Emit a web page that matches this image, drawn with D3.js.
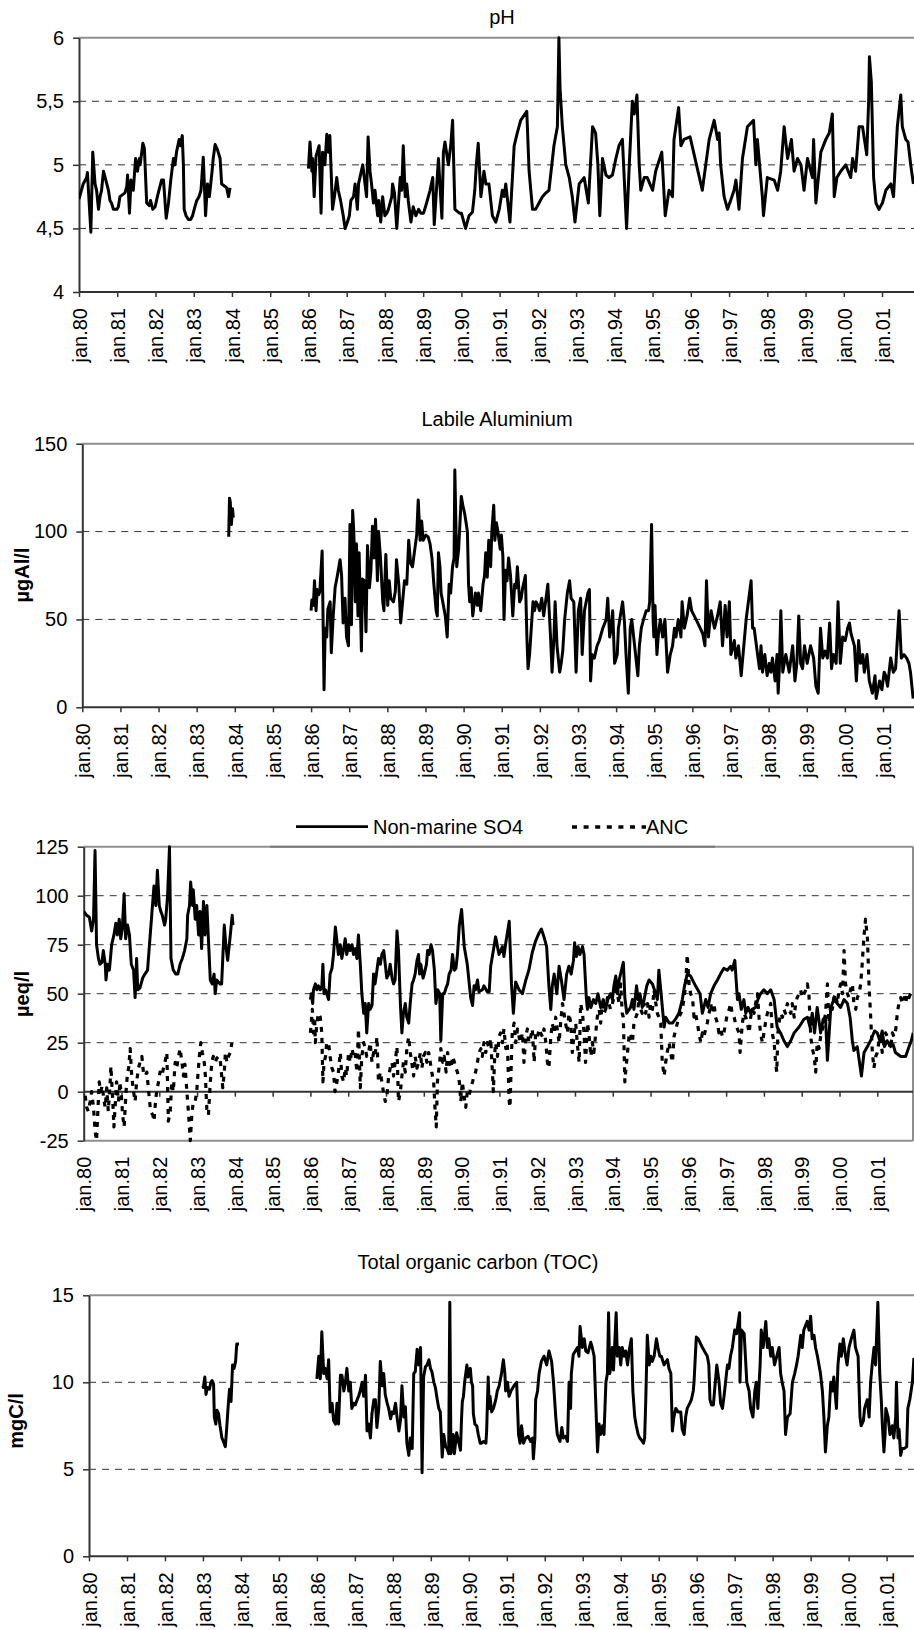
<!DOCTYPE html>
<html><head><meta charset="utf-8">
<script src="https://cdn.jsdelivr.net/npm/d3@7"></script>
<style>
body{margin:0;background:#fff}
svg{display:block}
text{font-family:"Liberation Sans",Arial,Helvetica,sans-serif;fill:#000}
</style>
</head><body>
<svg id="c" width="914" height="1630"></svg>
<script>
// ---------- tick data ----------
const yearTicks = [1980,1981,1982,1983,1984,1985,1986,1987,1988,1989,1990,1991,1992,1993,1994,1995,1996,1997,1998,1999,2000,2001];
const yearLabels = ["jan.80","jan.81","jan.82","jan.83","jan.84","jan.85","jan.86","jan.87","jan.88","jan.89","jan.90","jan.91","jan.92","jan.93","jan.94","jan.95","jan.96","jan.97","jan.98","jan.99","jan.00","jan.01"];
const phTicks = [4,4.5,5,5.5,6];
const phTickLabels = ["4","4,5","5","5,5","6"];
const alTicks = [0,50,100,150];
const eqTicks = [-25,0,25,50,75,100,125];
const tocTicks = [0,5,10,15];

// ---------- pH ----------
const ph1980 = [[1980.00,4.73],[1980.11,4.85],[1980.20,4.90],[1980.22,4.94],[1980.31,4.47],[1980.36,5.10],[1980.42,4.85],[1980.46,4.80],[1980.51,4.65],[1980.55,4.75],[1980.59,4.80],[1980.64,4.95],[1980.71,4.87],[1980.77,4.80],[1980.81,4.72],[1980.85,4.70],[1980.90,4.65],[1980.99,4.65],
[1981.03,4.67],[1981.07,4.75],[1981.16,4.77],[1981.20,4.78],[1981.25,4.83],[1981.27,4.92],[1981.32,4.62],[1981.36,4.88],[1981.42,4.80],[1981.48,5.05],[1981.53,4.95],[1981.58,5.05],[1981.60,5.00],[1981.67,5.17],[1981.71,5.13],[1981.77,4.70],[1981.84,4.68],[1981.87,4.72],[1981.93,4.65],[1981.99,4.67],
[1982.05,4.75],[1982.09,4.80],[1982.16,4.88],[1982.21,4.88],[1982.28,4.58],[1982.34,4.70],[1982.40,4.88],[1982.47,5.05],[1982.51,5.00],[1982.55,5.10],[1982.62,5.20],[1982.65,5.15],[1982.70,5.23],[1982.73,5.00],[1982.75,4.65],[1982.80,4.60],[1982.86,4.57],[1982.92,4.57],[1982.97,4.60],
[1983.03,4.67],[1983.08,4.72],[1983.14,4.75],[1983.19,4.80],[1983.25,5.06],[1983.31,4.60],[1983.36,4.85],[1983.41,4.75],[1983.48,4.95],[1983.51,5.05],[1983.56,5.16],[1983.62,5.12],[1983.69,5.05],[1983.73,4.85],[1983.82,4.83],[1983.86,4.82],[1983.91,4.75],[1983.95,4.82]];
const ph1986 = [[1986.00,4.97],[1986.04,5.18],[1986.09,4.95],[1986.11,5.05],[1986.15,4.75],[1986.20,5.07],[1986.23,5.10],[1986.28,5.15],[1986.33,4.62],[1986.37,5.10],[1986.43,5.00],[1986.48,5.24],[1986.52,5.10],[1986.56,5.23],[1986.63,4.65],[1986.68,4.75],[1986.74,4.90],[1986.78,4.80],[1986.84,4.72],[1986.91,4.60],[1986.96,4.50],
[1987.02,4.55],[1987.07,4.60],[1987.11,4.72],[1987.18,4.75],[1987.22,4.85],[1987.28,4.65],[1987.31,4.85],[1987.42,5.00],[1987.46,4.90],[1987.50,4.80],[1987.52,4.75],[1987.56,5.22],[1987.61,4.95],[1987.65,4.85],[1987.70,4.70],[1987.74,4.80],[1987.81,4.60],[1987.84,4.72],[1987.89,4.55],[1987.94,4.75],
[1988.00,4.60],[1988.05,4.62],[1988.09,4.65],[1988.18,4.75],[1988.20,4.85],[1988.25,4.78],[1988.31,4.50],[1988.40,4.90],[1988.44,4.80],[1988.48,5.15],[1988.53,4.75],[1988.57,4.85],[1988.61,4.72],[1988.68,4.55],[1988.74,4.67],[1988.81,4.60],[1988.88,4.65],[1988.94,4.62],
[1989.01,4.62],[1989.09,4.70],[1989.18,4.80],[1989.25,4.90],[1989.29,4.53],[1989.40,5.05],[1989.49,4.58],[1989.53,5.10],[1989.57,5.18],[1989.66,5.00],[1989.72,5.15],[1989.77,5.35],[1989.83,4.65],[1989.95,4.62],
[1990.00,4.62],[1990.11,4.50],[1990.20,4.60],[1990.29,4.63],[1990.35,4.80],[1990.39,5.00],[1990.44,5.17],[1990.51,4.75],[1990.59,4.95],[1990.64,4.85],[1990.72,4.85],[1990.81,4.60],[1990.90,4.55],[1990.99,4.65],
[1991.07,4.80],[1991.12,4.75],[1991.16,4.85],[1991.27,4.55],[1991.38,5.15],[1991.46,5.25],[1991.55,5.35],[1991.71,5.42],[1991.77,4.95],[1991.86,4.65],[1991.94,4.65],
[1992.03,4.70],[1992.12,4.75],[1992.21,4.78],[1992.29,4.80],[1992.42,5.15],[1992.51,5.30],[1992.55,6.00],[1992.58,5.60],[1992.64,5.30],[1992.73,5.00],[1992.82,4.90],[1992.90,4.75],[1992.97,4.55],
[1993.08,4.85],[1993.21,4.90],[1993.32,4.70],[1993.43,5.30],[1993.51,5.25],[1993.57,5.00],[1993.62,4.60],[1993.69,5.05],[1993.78,4.92],[1993.86,4.90],[1993.95,4.92],
[1994.04,5.05],[1994.12,5.15],[1994.21,5.20],[1994.32,4.50],[1994.39,5.00],[1994.47,5.50],[1994.52,5.40],[1994.59,5.55],[1994.65,5.00],[1994.69,4.80],[1994.78,4.90],[1994.86,4.90],
[1995.00,4.80],[1995.08,4.95],[1995.24,5.10],[1995.33,4.60],[1995.43,4.80],[1995.52,4.75],[1995.56,5.20],[1995.68,5.45],[1995.74,5.15],[1995.82,5.20],[1995.98,5.22],
[1996.30,4.80],[1996.39,5.00],[1996.48,5.20],[1996.61,5.35],[1996.70,5.20],[1996.74,5.25],[1996.78,5.00],[1996.87,4.75],[1996.96,4.65],
[1997.04,4.72],[1997.13,4.80],[1997.18,4.88],[1997.26,4.65],[1997.35,5.05],[1997.48,5.30],[1997.64,5.35],[1997.70,5.00],[1997.74,5.20],[1997.87,4.75],[1997.90,4.60],
[1998.00,4.90],[1998.18,4.88],[1998.27,4.80],[1998.35,4.95],[1998.44,5.30],[1998.53,5.05],[1998.63,5.20],[1998.70,4.95],[1998.79,5.05],[1998.88,5.00],[1998.96,4.80],
[1999.05,5.05],[1999.18,4.90],[1999.21,5.20],[1999.27,4.70],[1999.40,5.10],[1999.53,5.20],[1999.62,5.25],[1999.70,5.40],[1999.75,4.75],[1999.82,4.90],[1999.92,4.95],
[2000.05,5.00],[2000.18,4.90],[2000.23,5.05],[2000.31,4.95],[2000.40,5.30],[2000.49,5.30],[2000.60,5.08],[2000.65,5.50],[2000.67,5.85],[2000.72,5.65],[2000.78,4.90],[2000.84,4.70],[2000.92,4.65],
[2001.01,4.70],[2001.10,4.80],[2001.23,4.85],[2001.30,4.75],[2001.40,5.30],[2001.49,5.55],[2001.53,5.30],[2001.62,5.20],[2001.68,5.18],[2001.75,5.00],[2001.82,4.85]];

// ---------- Labile aluminium (ugAl/l) ----------
const al1983 = [[1983.84,97],[1983.86,119],[1983.88,117],[1983.91,104],[1983.94,113],[1983.96,108]];
const al1986 = [[1986.00,55],[1986.02,61],[1986.06,58],[1986.09,72],[1986.13,55],[1986.16,67],[1986.20,64],[1986.23,66],[1986.29,89],[1986.34,10],[1986.37,45],[1986.41,40],[1986.44,56],[1986.50,60],[1986.53,31],[1986.58,52],[1986.63,68],[1986.69,75],[1986.76,84],[1986.80,75],[1986.84,48],[1986.89,62],[1986.93,40],[1986.98,35],
[1987.02,104],[1987.06,47],[1987.09,112],[1987.12,100],[1987.16,60],[1987.19,93],[1987.23,52],[1987.26,88],[1987.32,32],[1987.35,73],[1987.40,72],[1987.44,43],[1987.48,92],[1987.53,68],[1987.57,78],[1987.61,103],[1987.65,85],[1987.69,107],[1987.74,72],[1987.77,100],[1987.82,85],[1987.88,60],[1987.91,55],[1987.96,87],
[1988.01,58],[1988.05,72],[1988.09,62],[1988.16,60],[1988.21,66],[1988.24,84],[1988.30,70],[1988.35,48],[1988.40,60],[1988.45,72],[1988.51,70],[1988.56,95],[1988.61,82],[1988.66,80],[1988.72,90],[1988.77,98],[1988.81,118],[1988.86,95],[1988.90,106],[1988.94,95],
[1989.01,98],[1989.07,97],[1989.12,93],[1989.17,85],[1989.22,70],[1989.28,55],[1989.31,52],[1989.34,88],[1989.38,80],[1989.41,65],[1989.47,58],[1989.52,52],[1989.57,40],[1989.62,70],[1989.66,65],[1989.71,80],[1989.75,85],[1989.77,135],[1989.82,80],[1989.87,90],
[1989.94,120],[1989.98,115],[1990.03,110],[1990.10,100],[1990.13,70],[1990.16,60],[1990.20,68],[1990.24,52],[1990.31,65],[1990.36,58],[1990.39,65],[1990.45,55],[1990.51,70],[1990.55,75],[1990.58,88],[1990.62,74],[1990.66,95],[1990.71,80],[1990.74,100],[1990.79,115],[1990.82,95],[1990.86,105],[1990.90,100],[1990.96,90],[1990.99,98],
[1991.03,86],[1991.06,50],[1991.10,78],[1991.14,72],[1991.18,85],[1991.23,75],[1991.29,52],[1991.34,70],[1991.38,68],[1991.41,80],[1991.47,60],[1991.51,62],[1991.55,68],[1991.62,75],[1991.66,40],[1991.69,22],[1991.73,30],[1991.82,60],[1991.86,55],[1991.90,60],[1991.95,58],[1991.99,55],
[1992.05,62],[1992.10,52],[1992.21,70],[1992.28,40],[1992.32,20],[1992.37,40],[1992.40,60],[1992.45,35],[1992.52,20],[1992.56,25],[1992.60,32],[1992.65,50],[1992.72,65],[1992.78,72],[1992.82,62],[1992.89,60],[1992.95,20],
[1993.01,55],[1993.07,62],[1993.11,30],[1993.17,55],[1993.26,65],[1993.30,67],[1993.33,15],[1993.37,30],[1993.43,28],[1993.50,35],[1993.56,38],[1993.65,45],[1993.74,50],[1993.78,62],[1993.83,40],[1993.87,45],[1993.91,55],[1993.96,25],
[1994.03,30],[1994.06,45],[1994.17,60],[1994.22,48],[1994.26,30],[1994.32,8],[1994.37,45],[1994.41,50],[1994.46,40],[1994.52,28],[1994.57,18],[1994.61,35],[1994.66,45],[1994.72,50],[1994.79,55],[1994.85,55],[1994.88,60],[1994.93,104],[1994.97,50],[1994.99,40],
[1995.02,58],[1995.07,30],[1995.11,42],[1995.16,50],[1995.22,40],[1995.28,50],[1995.35,20],[1995.42,30],[1995.48,35],[1995.53,45],[1995.57,40],[1995.63,50],[1995.70,40],[1995.73,60],[1995.79,45],[1995.86,52],[1995.93,62],[1995.98,55],
[1996.14,48],[1996.27,42],[1996.33,35],[1996.37,72],[1996.42,40],[1996.49,55],[1996.58,45],[1996.66,52],[1996.73,60],[1996.79,35],[1996.86,58],[1996.91,40],[1996.97,60],
[1997.01,30],[1997.10,38],[1997.14,28],[1997.21,35],[1997.28,18],[1997.41,50],[1997.54,72],[1997.58,45],[1997.62,45],[1997.71,30],[1997.76,22],[1997.80,35],[1997.84,20],[1997.90,30],[1997.96,18],
[1998.02,25],[1998.06,20],[1998.10,28],[1998.17,15],[1998.22,30],[1998.25,8],[1998.28,22],[1998.32,55],[1998.37,20],[1998.45,30],[1998.54,20],[1998.63,35],[1998.69,15],[1998.74,25],[1998.79,52],[1998.84,25],[1998.89,22],[1998.94,35],
[1999.01,25],[1999.10,35],[1999.18,28],[1999.24,12],[1999.30,8],[1999.36,45],[1999.42,28],[1999.48,32],[1999.54,28],[1999.60,48],[1999.65,22],[1999.70,30],[1999.77,25],[1999.82,60],[1999.88,25],[1999.94,40],
[2000.01,38],[2000.07,45],[2000.12,48],[2000.16,42],[2000.25,35],[2000.30,15],[2000.36,38],[2000.41,25],[2000.47,30],[2000.51,20],[2000.58,30],[2000.64,15],[2000.72,8],[2000.79,18],[2000.82,5],[2000.91,15],[2000.97,10],
[2001.03,20],[2001.07,18],[2001.12,12],[2001.20,28],[2001.27,20],[2001.33,22],[2001.42,55],[2001.48,28],[2001.55,30],[2001.62,28],[2001.68,25],[2001.72,20],[2001.79,5]];

// ---------- Non-marine SO4 (ueq/l) ----------
const so41980 = [[1980.00,92],[1980.08,90],[1980.15,89],[1980.21,82],[1980.26,88],[1980.30,123],[1980.34,75],[1980.39,68],[1980.43,65],[1980.48,66],[1980.52,72],[1980.57,65],[1980.59,57],[1980.63,65],[1980.68,62],[1980.74,75],[1980.80,80],[1980.85,86],[1980.89,80],[1980.94,88],[1980.98,78],
[1981.02,83],[1981.07,101],[1981.11,78],[1981.16,85],[1981.21,80],[1981.26,65],[1981.32,62],[1981.36,48],[1981.40,68],[1981.43,52],[1981.49,53],[1981.56,58],[1981.62,60],[1981.69,62],[1981.76,80],[1981.80,90],[1981.86,105],[1981.91,95],[1981.95,113],[1982.00,95],
[1982.04,92],[1982.08,90],[1982.14,85],[1982.17,88],[1982.22,100],[1982.27,125],[1982.31,68],[1982.37,62],[1982.44,60],[1982.49,60],[1982.55,65],[1982.61,68],[1982.67,72],[1982.73,78],[1982.75,90],[1982.80,95],[1982.83,107],[1982.88,95],[1982.90,103],[1982.95,88],[1982.99,95],
[1983.04,80],[1983.08,92],[1983.12,73],[1983.17,97],[1983.21,80],[1983.26,95],[1983.30,78],[1983.35,57],[1983.40,55],[1983.45,60],[1983.48,50],[1983.52,57],[1983.61,55],[1983.65,55],[1983.72,85],[1983.76,75],[1983.81,67],[1983.88,80],[1983.93,90],[1983.95,85]];
const so41986 = [[1986.00,47],[1986.02,50],[1986.06,45],[1986.08,52],[1986.13,55],[1986.17,52],[1986.21,54],[1986.26,52],[1986.30,53],[1986.33,65],[1986.36,50],[1986.40,52],[1986.43,50],[1986.48,47],[1986.52,60],[1986.57,63],[1986.61,70],[1986.66,84],[1986.70,77],[1986.74,70],[1986.79,75],[1986.83,68],[1986.88,73],[1986.92,78],[1986.96,70],
[1987.01,75],[1987.05,72],[1987.10,75],[1987.14,70],[1987.19,73],[1987.23,68],[1987.27,80],[1987.32,65],[1987.36,50],[1987.41,40],[1987.45,45],[1987.49,30],[1987.54,45],[1987.58,42],[1987.63,44],[1987.67,60],[1987.71,55],[1987.76,62],[1987.80,68],[1987.85,65],[1987.89,70],[1987.94,72],[1987.98,65],
[1988.02,58],[1988.07,60],[1988.11,65],[1988.16,58],[1988.20,55],[1988.24,57],[1988.29,82],[1988.33,72],[1988.38,45],[1988.42,30],[1988.46,40],[1988.51,45],[1988.55,38],[1988.60,35],[1988.64,45],[1988.69,55],[1988.73,57],[1988.77,60],[1988.82,67],[1988.86,70],[1988.89,60],[1988.92,65],[1988.98,58],
[1989.01,60],[1989.07,65],[1989.10,72],[1989.14,70],[1989.19,75],[1989.23,72],[1989.28,62],[1989.32,45],[1989.37,52],[1989.42,50],[1989.45,26],[1989.50,50],[1989.54,50],[1989.59,53],[1989.63,55],[1989.67,60],[1989.72,62],[1989.76,70],[1989.81,62],[1989.85,63],[1989.89,70],[1989.94,85],
[1990.00,93],[1990.07,74],[1990.15,65],[1990.24,48],[1990.29,44],[1990.33,54],[1990.37,52],[1990.42,57],[1990.46,51],[1990.55,52],[1990.59,54],[1990.68,51],[1990.73,51],[1990.77,64],[1990.84,72],[1990.90,79],[1990.95,74],[1990.99,70],
[1991.08,74],[1991.12,69],[1991.17,76],[1991.26,87],[1991.32,55],[1991.37,40],[1991.43,56],[1991.52,52],[1991.61,50],[1991.70,57],[1991.78,62],[1991.87,71],[1991.96,77],
[1992.05,81],[1992.11,83],[1992.18,79],[1992.25,74],[1992.31,54],[1992.36,42],[1992.40,54],[1992.45,60],[1992.52,50],[1992.58,64],[1992.64,57],[1992.71,47],[1992.78,60],[1992.84,64],[1992.90,60],[1992.96,67],[1992.99,76],
[1993.04,69],[1993.08,74],[1993.13,70],[1993.20,74],[1993.24,70],[1993.30,48],[1993.33,42],[1993.37,48],[1993.42,43],[1993.49,47],[1993.55,45],[1993.61,50],[1993.68,43],[1993.75,47],[1993.81,42],[1993.87,47],[1993.94,50],[1993.99,47],
[1994.03,54],[1994.08,59],[1994.12,50],[1994.17,57],[1994.28,66],[1994.32,48],[1994.37,40],[1994.47,43],[1994.52,47],[1994.56,42],[1994.63,54],[1994.67,47],[1994.72,50],[1994.78,43],[1994.83,47],[1994.90,54],[1994.96,57],
[1995.05,55],[1995.12,51],[1995.18,47],[1995.22,62],[1995.27,52],[1995.36,33],[1995.40,38],[1995.49,35],[1995.58,35],[1995.66,37],[1995.75,40],[1995.84,47],[1995.90,54],[1995.97,60],
[1996.06,59],[1996.19,54],[1996.31,50],[1996.37,40],[1996.46,47],[1996.52,43],[1996.59,50],[1996.68,54],[1996.77,57],[1996.85,60],[1996.94,63],
[1997.03,62],[1997.12,64],[1997.16,62],[1997.23,67],[1997.30,47],[1997.34,50],[1997.40,42],[1997.47,47],[1997.52,40],[1997.58,43],[1997.65,40],[1997.69,42],[1997.78,43],[1997.84,47],[1997.91,50],
[1998.00,52],[1998.09,50],[1998.18,52],[1998.27,47],[1998.35,33],[1998.44,30],[1998.53,26],[1998.62,23],[1998.71,26],[1998.80,30],[1998.93,33],
[1999.06,37],[1999.15,38],[1999.22,33],[1999.28,40],[1999.34,30],[1999.41,43],[1999.50,30],[1999.57,37],[1999.63,38],[1999.68,16],[1999.77,43],[1999.85,47],[1999.94,45],
[2000.03,43],[2000.12,47],[2000.21,45],[2000.28,38],[2000.34,26],[2000.38,21],[2000.47,23],[2000.58,8],[2000.65,20],[2000.74,23],[2000.82,26],[2000.93,31],
[2001.00,30],[2001.07,26],[2001.13,31],[2001.19,23],[2001.26,26],[2001.35,23],[2001.42,24],[2001.48,20],[2001.62,18],[2001.75,18],[2001.84,23],[2001.90,26],[2001.95,30]];

// ---------- ANC (ueq/l) ----------
const anc1980 = [[1980.04,-2],[1980.08,-8],[1980.12,-10],[1980.17,-5],[1980.21,0],[1980.26,-8],[1980.30,-20],[1980.34,-25],[1980.37,-12],[1980.41,5],[1980.45,0],[1980.49,3],[1980.54,-5],[1980.57,-8],[1980.61,2],[1980.65,-10],[1980.70,5],[1980.72,13],[1980.77,-5],[1980.80,-18],[1980.83,-8],[1980.87,5],[1980.92,-5],[1980.96,5],[1981.00,-3],
[1981.03,-12],[1981.07,-18],[1981.12,0],[1981.16,10],[1981.19,12],[1981.23,22],[1981.27,8],[1981.32,0],[1981.36,-5],[1981.40,5],[1981.45,12],[1981.49,15],[1981.54,18],[1981.58,10],[1981.63,8],[1981.67,10],[1981.73,-2],[1981.77,-10],[1981.83,-12],[1981.86,-15],[1981.90,-5],[1981.93,0],[1981.98,5],
[1982.02,10],[1982.07,8],[1982.11,12],[1982.15,15],[1982.20,20],[1982.24,-15],[1982.29,-10],[1982.33,5],[1982.37,0],[1982.42,15],[1982.46,12],[1982.51,18],[1982.55,22],[1982.60,15],[1982.64,8],[1982.68,14],[1982.73,0],[1982.77,-10],[1982.82,-25],[1982.86,-12],[1982.90,-5],[1982.95,-5],[1982.99,0],
[1983.02,8],[1983.06,18],[1983.10,25],[1983.14,20],[1983.19,15],[1983.22,8],[1983.26,-10],[1983.30,-12],[1983.35,5],[1983.39,15],[1983.43,18],[1983.48,15],[1983.52,17],[1983.57,18],[1983.61,17],[1983.68,2],[1983.72,10],[1983.75,20],[1983.79,15],[1983.83,18],[1983.88,20],[1983.92,25]];
const anc1986 = [[1986.00,30],[1986.02,35],[1986.05,42],[1986.08,30],[1986.11,38],[1986.13,25],[1986.17,35],[1986.21,40],[1986.26,38],[1986.30,30],[1986.33,5],[1986.36,15],[1986.40,18],[1986.43,25],[1986.48,25],[1986.52,18],[1986.57,12],[1986.61,10],[1986.65,0],[1986.70,5],[1986.74,10],[1986.79,20],[1986.83,8],[1986.88,5],[1986.92,12],[1986.96,8],
[1987.01,20],[1987.05,15],[1987.10,22],[1987.14,18],[1987.18,20],[1987.23,10],[1987.27,32],[1987.32,2],[1987.36,18],[1987.41,25],[1987.45,22],[1987.49,18],[1987.54,20],[1987.58,25],[1987.63,15],[1987.67,20],[1987.71,18],[1987.76,28],[1987.80,5],[1987.85,10],[1987.89,5],[1987.93,0],[1987.98,-5],
[1988.02,-3],[1988.07,8],[1988.11,12],[1988.16,15],[1988.20,8],[1988.24,15],[1988.29,23],[1988.33,-5],[1988.38,0],[1988.42,8],[1988.46,15],[1988.51,10],[1988.55,22],[1988.60,28],[1988.64,20],[1988.68,15],[1988.73,8],[1988.77,18],[1988.82,12],[1988.86,15],[1988.91,20],[1988.95,12],[1988.99,18],
[1989.04,20],[1989.08,15],[1989.13,20],[1989.17,15],[1989.21,10],[1989.26,5],[1989.30,-10],[1989.33,-18],[1989.36,5],[1989.42,15],[1989.45,22],[1989.50,15],[1989.54,18],[1989.59,10],[1989.63,20],[1989.67,15],[1989.72,12],[1989.76,18],[1989.81,15],[1989.85,12],[1989.89,10],[1989.94,5],
[1989.98,-5],[1990.02,5],[1990.07,-3],[1990.11,-8],[1990.15,0],[1990.20,-2],[1990.24,2],[1990.29,5],[1990.33,8],[1990.37,10],[1990.42,15],[1990.46,20],[1990.51,22],[1990.55,18],[1990.59,25],[1990.64,20],[1990.68,25],[1990.73,22],[1990.77,27],[1990.81,12],[1990.84,0],[1990.88,20],[1990.90,25],[1990.95,18],[1990.99,28],
[1991.03,30],[1991.08,25],[1991.12,32],[1991.17,22],[1991.21,25],[1991.26,-5],[1991.28,-8],[1991.32,18],[1991.34,30],[1991.39,35],[1991.43,25],[1991.48,32],[1991.52,28],[1991.56,25],[1991.61,30],[1991.65,15],[1991.70,28],[1991.74,32],[1991.78,25],[1991.83,28],[1991.87,32],[1991.92,15],[1991.96,30],
[1992.01,28],[1992.05,32],[1992.09,30],[1992.14,28],[1992.18,32],[1992.23,25],[1992.27,15],[1992.31,12],[1992.36,28],[1992.40,35],[1992.45,30],[1992.49,38],[1992.53,32],[1992.58,25],[1992.62,35],[1992.67,45],[1992.71,40],[1992.75,35],[1992.80,30],[1992.84,40],[1992.89,35],[1992.93,20],[1992.98,30],
[1993.02,35],[1993.06,25],[1993.11,15],[1993.15,45],[1993.20,40],[1993.24,30],[1993.28,15],[1993.33,35],[1993.37,30],[1993.42,18],[1993.46,25],[1993.50,20],[1993.55,30],[1993.59,38],[1993.64,42],[1993.68,35],[1993.72,45],[1993.77,40],[1993.81,42],[1993.86,48],[1993.90,45],[1993.94,42],[1993.99,45],
[1994.03,48],[1994.08,52],[1994.12,50],[1994.17,45],[1994.21,55],[1994.25,40],[1994.28,38],[1994.32,5],[1994.34,10],[1994.39,20],[1994.43,28],[1994.47,30],[1994.52,25],[1994.56,35],[1994.61,38],[1994.65,40],[1994.70,48],[1994.74,42],[1994.78,40],[1994.83,45],[1994.87,40],[1994.92,45],[1994.96,38],
[1995.00,45],[1995.05,42],[1995.09,52],[1995.14,45],[1995.18,40],[1995.22,38],[1995.27,35],[1995.31,15],[1995.36,8],[1995.40,15],[1995.44,20],[1995.49,25],[1995.53,20],[1995.58,15],[1995.62,28],[1995.67,32],[1995.71,35],[1995.75,38],[1995.80,40],[1995.84,42],[1995.89,48],[1995.93,55],[1995.97,70],
[1996.02,55],[1996.06,50],[1996.11,48],[1996.15,38],[1996.19,40],[1996.24,35],[1996.28,30],[1996.33,25],[1996.37,30],[1996.41,28],[1996.46,32],[1996.50,35],[1996.55,40],[1996.59,45],[1996.64,40],[1996.68,45],[1996.72,38],[1996.77,35],[1996.81,30],[1996.86,32],[1996.90,28],[1996.94,30],[1996.99,35],
[1997.03,40],[1997.08,42],[1997.12,45],[1997.16,40],[1997.21,38],[1997.25,35],[1997.30,32],[1997.34,30],[1997.37,20],[1997.40,28],[1997.43,35],[1997.47,40],[1997.52,38],[1997.56,35],[1997.61,30],[1997.65,38],[1997.69,42],[1997.74,40],[1997.78,45],[1997.83,50],[1997.87,38],[1997.91,30],[1997.96,25],
[1998.00,30],[1998.04,35],[1998.09,40],[1998.13,42],[1998.18,45],[1998.22,30],[1998.27,25],[1998.31,15],[1998.34,10],[1998.37,30],[1998.40,35],[1998.44,40],[1998.49,38],[1998.53,42],[1998.57,40],[1998.62,45],[1998.66,42],[1998.71,40],[1998.75,45],[1998.80,38],[1998.84,45],[1998.88,48],[1998.93,50],[1998.97,52],
[1999.02,48],[1999.06,50],[1999.11,52],[1999.15,55],[1999.19,50],[1999.24,28],[1999.28,22],[1999.33,18],[1999.37,10],[1999.41,25],[1999.46,22],[1999.50,28],[1999.55,32],[1999.59,35],[1999.63,40],[1999.68,55],[1999.72,35],[1999.77,45],[1999.81,42],[1999.85,48],[1999.90,50],[1999.94,45],[1999.99,52],
[2000.03,55],[2000.08,50],[2000.12,72],[2000.16,55],[2000.21,50],[2000.25,48],[2000.29,52],[2000.34,55],[2000.38,45],[2000.43,42],[2000.47,48],[2000.52,50],[2000.56,55],[2000.60,65],[2000.65,80],[2000.69,88],[2000.74,78],[2000.78,55],[2000.82,40],[2000.87,20],[2000.91,12],[2000.96,18],
[2001.00,20],[2001.04,25],[2001.09,28],[2001.13,20],[2001.18,25],[2001.22,30],[2001.27,28],[2001.31,25],[2001.35,22],[2001.40,30],[2001.44,28],[2001.49,32],[2001.53,40],[2001.57,45],[2001.62,48],[2001.66,45],[2001.71,48],[2001.75,45],[2001.79,50],[2001.84,48],[2001.88,50],[2001.93,52]];

// ---------- TOC (mgC/l) ----------
const toc1983 = [[1983.00,9.8],[1983.01,9.7],[1983.05,10.3],[1983.08,9.3],[1983.12,9.7],[1983.17,9.6],[1983.21,10.0],[1983.24,10.1],[1983.28,9.9],[1983.30,8.0],[1983.34,7.6],[1983.37,8.4],[1983.41,8.2],[1983.45,7.5],[1983.50,6.8],[1983.54,6.6],[1983.59,6.3],[1983.63,7.5],[1983.67,8.8],[1983.70,9.6],[1983.74,8.9],[1983.78,11.0],[1983.82,10.8],[1983.86,11.2],[1983.89,12.2],[1983.95,12.2]];
const toc1986 = [[1986.00,10.2],[1986.05,11.5],[1986.09,10.2],[1986.13,12.9],[1986.18,10.5],[1986.22,10.8],[1986.27,10.2],[1986.31,11.3],[1986.35,8.3],[1986.40,8.8],[1986.44,7.8],[1986.49,7.6],[1986.53,8.8],[1986.57,7.6],[1986.62,10.4],[1986.66,10.4],[1986.71,9.5],[1986.75,10.0],[1986.79,10.8],[1986.84,9.5],[1986.88,10.0],[1986.92,8.5],[1986.97,8.8],
[1987.01,8.7],[1987.06,9.0],[1987.10,9.2],[1987.14,9.5],[1987.19,10.0],[1987.23,9.2],[1987.28,10.4],[1987.32,7.2],[1987.36,7.6],[1987.41,6.8],[1987.45,8.2],[1987.50,9.0],[1987.54,9.0],[1987.58,7.4],[1987.63,8.5],[1987.67,11.2],[1987.72,9.8],[1987.76,10.5],[1987.80,9.3],[1987.85,8.8],[1987.89,8.5],[1987.94,7.9],[1987.98,8.3],
[1988.02,8.2],[1988.07,8.8],[1988.11,8.0],[1988.16,7.2],[1988.20,7.8],[1988.24,9.8],[1988.29,8.0],[1988.33,8.6],[1988.37,6.5],[1988.42,5.8],[1988.46,6.8],[1988.51,6.2],[1988.55,10.5],[1988.59,10.6],[1988.64,11.9],[1988.68,11.0],[1988.73,12.0],[1988.77,4.8],[1988.81,10.3],[1988.86,10.9],[1988.90,11.0],[1988.95,11.3],[1988.99,10.8],
[1989.03,10.6],[1989.08,10.0],[1989.12,9.7],[1989.17,9.0],[1989.21,8.5],[1989.25,8.3],[1989.30,5.7],[1989.34,7.0],[1989.39,6.3],[1989.43,6.2],[1989.47,5.9],[1989.50,14.6],[1989.53,5.9],[1989.59,7.0],[1989.62,5.9],[1989.68,7.1],[1989.74,6.5],[1989.78,6.1],
[1989.81,8.0],[1989.83,8.9],[1989.86,9.2],[1989.89,10.0],[1989.95,11.0],[1989.98,10.3],[1990.04,10.8],[1990.07,10.0],[1990.10,9.8],[1990.12,8.2],[1990.16,7.6],[1990.21,7.5],[1990.25,7.0],[1990.30,6.5],[1990.33,6.5],[1990.39,6.6],[1990.45,6.5],[1990.47,7.2],[1990.51,10.3],[1990.54,8.5],[1990.56,9.2],[1990.60,8.3],[1990.65,8.5],[1990.71,9.0],[1990.75,9.5],[1990.80,9.8],[1990.86,10.5],[1990.91,11.3],[1990.95,10.5],[1990.97,9.5],
[1991.02,10.0],[1991.06,9.2],[1991.11,9.5],[1991.19,9.8],[1991.26,10.0],[1991.31,7.0],[1991.35,6.5],[1991.39,7.5],[1991.44,6.5],[1991.50,6.8],[1991.56,6.9],[1991.63,6.6],[1991.68,6.8],[1991.70,5.6],[1991.74,6.8],[1991.76,9.0],[1991.81,9.5],[1991.85,10.5],[1991.91,11.2],[1991.98,11.5],
[1992.05,11.0],[1992.11,11.8],[1992.18,11.2],[1992.23,10.0],[1992.29,8.0],[1992.33,7.0],[1992.40,6.6],[1992.45,7.4],[1992.49,6.8],[1992.55,6.9],[1992.60,6.6],[1992.64,10.0],[1992.68,8.5],[1992.70,10.5],[1992.75,11.6],[1992.86,12.0],[1992.90,11.5],[1992.93,13.2],[1992.99,12.0],
[1993.04,12.5],[1993.08,11.8],[1993.14,11.7],[1993.21,12.3],[1993.25,12.0],[1993.30,11.5],[1993.34,9.0],[1993.39,6.0],[1993.43,7.6],[1993.47,7.0],[1993.52,7.5],[1993.56,7.0],[1993.61,10.0],[1993.65,10.5],[1993.68,14.0],[1993.71,10.5],[1993.75,11.0],[1993.78,12.0],[1993.81,10.7],[1993.88,14.0],[1993.91,11.5],[1993.96,12.0],
[1994.00,11.0],[1994.04,12.0],[1994.09,11.5],[1994.13,11.8],[1994.18,11.0],[1994.22,11.8],[1994.28,12.5],[1994.32,9.5],[1994.37,8.0],[1994.41,7.5],[1994.46,7.0],[1994.50,6.8],[1994.54,6.7],[1994.60,6.5],[1994.63,6.8],[1994.66,9.0],[1994.70,12.7],[1994.75,11.0],[1994.79,11.5],[1994.83,11.2],[1994.88,11.5],[1994.94,12.5],[1994.98,12.0],
[1995.03,11.5],[1995.07,11.5],[1995.14,11.0],[1995.23,11.3],[1995.27,10.8],[1995.32,10.5],[1995.36,7.2],[1995.40,8.0],[1995.45,8.5],[1995.51,8.3],[1995.58,8.3],[1995.62,7.3],[1995.67,7.0],[1995.71,8.0],[1995.75,8.5],[1995.82,8.8],[1995.86,9.0],[1995.91,9.5],[1995.93,10.0],[1995.99,12.6],
[1996.04,12.5],[1996.15,12.0],[1996.28,11.5],[1996.32,11.0],[1996.35,9.0],[1996.39,8.7],[1996.44,8.7],[1996.47,9.5],[1996.53,11.0],[1996.59,10.0],[1996.63,8.8],[1996.68,8.5],[1996.72,9.2],[1996.76,10.0],[1996.81,11.0],[1996.85,10.8],[1996.89,11.5],[1996.94,12.0],
[1997.00,13.0],[1997.05,12.8],[1997.13,14.0],[1997.14,10.0],[1997.18,13.0],[1997.25,12.8],[1997.32,10.0],[1997.38,9.5],[1997.42,8.5],[1997.48,8.0],[1997.53,9.5],[1997.57,10.0],[1997.61,8.5],[1997.67,11.0],[1997.70,13.0],[1997.75,12.0],[1997.82,13.5],[1997.86,12.0],[1997.90,12.5],[1997.95,11.5],[1997.99,12.0],
[1998.05,11.0],[1998.11,11.5],[1998.17,12.0],[1998.21,10.5],[1998.25,10.0],[1998.30,9.5],[1998.34,7.0],[1998.39,8.0],[1998.46,8.2],[1998.52,10.0],[1998.58,10.5],[1998.63,11.0],[1998.67,11.5],[1998.74,12.7],[1998.78,12.0],[1998.82,13.0],[1998.91,13.5],[1998.96,13.0],
[1999.00,13.8],[1999.04,12.5],[1999.09,12.7],[1999.13,12.0],[1999.18,11.5],[1999.22,11.0],[1999.26,10.5],[1999.31,9.5],[1999.35,8.0],[1999.39,6.0],[1999.44,7.5],[1999.48,8.0],[1999.53,10.0],[1999.57,9.5],[1999.61,10.3],[1999.68,8.5],[1999.72,11.0],[1999.77,12.2],[1999.81,11.5],[1999.86,12.5],[1999.92,11.5],[1999.96,11.0],
[2000.01,12.0],[2000.07,12.5],[2000.14,13.0],[2000.18,12.0],[2000.25,11.5],[2000.30,8.0],[2000.33,7.5],[2000.39,7.8],[2000.42,8.5],[2000.49,9.0],[2000.54,8.0],[2000.58,10.0],[2000.62,11.0],[2000.67,12.0],[2000.71,11.0],[2000.77,14.6],[2000.82,10.5],[2000.86,9.0],[2000.89,7.5],[2000.93,6.0],[2000.96,7.0],[2000.98,8.5],
[2001.04,8.0],[2001.09,7.0],[2001.15,7.5],[2001.19,6.8],[2001.24,8.0],[2001.26,10.0],[2001.30,6.8],[2001.33,7.3],[2001.37,5.8],[2001.41,6.2],[2001.47,6.2],[2001.53,6.3],[2001.56,8.5],[2001.61,9.0],[2001.68,10.0],[2001.72,11.4]];

// ---------- drawing ----------
const svg = d3.select("#c");
const FONT = 20;
let clipId = 0;

function panel(cfg) {
  const x = d3.scaleLinear().domain([1980, 2003]).range([cfg.left, cfg.left + 23 * cfg.perYear]);
  const y = d3.scaleLinear().domain(cfg.yDomain).range([cfg.bottom, cfg.top]);
  const right = cfg.right;
  const g = svg.append("g");

  if (cfg.title) {
    g.append("text").attr("x", cfg.titleX).attr("y", cfg.titleY)
      .attr("text-anchor", "middle").style("font-size", FONT + "px").text(cfg.title);
  }
  cfg.grid.forEach(v => {
    g.append("line").attr("x1", cfg.left).attr("x2", right)
      .attr("y1", y(v)).attr("y2", y(v))
      .attr("stroke", "#333").attr("stroke-width", 1).attr("stroke-dasharray", "7,6");
  });
  g.append("line").attr("x1", cfg.left).attr("x2", right)
    .attr("y1", y(cfg.yDomain[1])).attr("y2", y(cfg.yDomain[1]))
    .attr("stroke", "#8e8e8e").attr("stroke-width", 2);
  if (cfg.frame) {
    g.append("line").attr("x1", cfg.left).attr("x2", right)
      .attr("y1", y(cfg.yDomain[0])).attr("y2", y(cfg.yDomain[0]))
      .attr("stroke", "#8e8e8e").attr("stroke-width", 2);
    g.append("line").attr("x1", right).attr("x2", right)
      .attr("y1", y(cfg.yDomain[0])).attr("y2", y(cfg.yDomain[1]))
      .attr("stroke", "#8e8e8e").attr("stroke-width", 2);
  }

  const ya = g.append("g").attr("transform", `translate(${cfg.left},0)`)
    .call(d3.axisLeft(y).tickValues(cfg.yTicks).tickSize(6).tickSizeOuter(0).tickPadding(9)
      .tickFormat((d, i) => cfg.yLabels ? cfg.yLabels[i] : String(d)));
  ya.select(".domain").attr("stroke", "#333").attr("stroke-width", 2);
  ya.selectAll(".tick line").attr("stroke", "#333").attr("stroke-width", 1.5);
  ya.selectAll("text").style("font-size", FONT + "px").attr("fill", "#000")
    .style("font-family", '"Liberation Sans",Arial,sans-serif');

  const xa = g.append("g").attr("transform", `translate(0,${y(cfg.xAxisAt)})`)
    .call(d3.axisBottom(x).tickValues(yearTicks).tickSize(5).tickSizeOuter(0)
      .tickFormat(cfg.labelsLow ? () => "" : (d, i) => yearLabels[i]));
  xa.select(".domain").attr("stroke", "#333").attr("stroke-width", 2).attr("d", `M${cfg.left},0H${right}`);
  xa.selectAll(".tick line").attr("stroke", "#333").attr("stroke-width", 1.5);

  let labG = xa;
  if (cfg.labelsLow) {
    labG = g.append("g").attr("transform", `translate(0,${y(cfg.yDomain[0])})`)
      .call(d3.axisBottom(x).tickValues(yearTicks).tickSize(0).tickSizeOuter(0)
        .tickFormat((d, i) => yearLabels[i]));
    labG.select(".domain").remove();
  }
  labG.selectAll("text")
    .style("font-size", FONT + "px").attr("fill", "#000")
    .style("font-family", '"Liberation Sans",Arial,sans-serif')
    .attr("transform", "rotate(-90)")
    .attr("text-anchor", "end")
    .attr("x", -16).attr("y", 0).attr("dy", "0.36em");

  if (cfg.yTitle) {
    g.append("text")
      .attr("transform", `translate(${cfg.yTitleX},${cfg.yTitleY}) rotate(-90)`)
      .attr("text-anchor", "middle").style("font-size", FONT + "px")
      .style("font-weight", "bold").text(cfg.yTitle);
  }

  const id = "clip" + (clipId++);
  svg.append("clipPath").attr("id", id).append("rect")
    .attr("x", cfg.left).attr("y", cfg.top - 2)
    .attr("width", right - cfg.left).attr("height", cfg.bottom - cfg.top + 4);
  const dg = g.append("g").attr("clip-path", `url(#${id})`);
  const line = d3.line().x(d => x(d[0])).y(d => y(d[1]));
  cfg.series.forEach(s => {
    s.segments.forEach(seg => {
      dg.append("path").attr("d", line(seg)).attr("fill", "none")
        .attr("stroke", "#000").attr("stroke-width", s.width)
        .attr("stroke-linejoin", "round")
        .attr("stroke-dasharray", s.dash || null);
    });
  });
}

panel({left: 79, perYear: 38.24, right: 920, top: 37.7, bottom: 292, yDomain: [4, 6],
  yTicks: phTicks, yLabels: phTickLabels, grid: [4.5, 5, 5.5], xAxisAt: 4,
  title: "pH", titleX: 502, titleY: 24,
  series: [{segments: [ph1980, ph1986], width: 3}]});

panel({left: 82.3, perYear: 38.13, right: 920, top: 443.7, bottom: 707.3, yDomain: [0, 150],
  yTicks: alTicks, grid: [50, 100], xAxisAt: 0,
  title: "Labile Aluminium", titleX: 497, titleY: 426,
  yTitle: "µgAl/l", yTitleX: 29, yTitleY: 575,
  series: [{segments: [al1983, al1986], width: 3}]});

panel({left: 83.7, perYear: 37.79, right: 913, top: 846.7, bottom: 1140.7, yDomain: [-25, 125],
  yTicks: eqTicks, grid: [25, 50, 75, 100], xAxisAt: 0, labelsLow: true, frame: true,
  yTitle: "µeq/l", yTitleX: 29, yTitleY: 994,
  series: [{segments: [so41980, so41986], width: 3},
           {segments: [anc1980, anc1986], width: 3.2, dash: "5,6"}]});

const lg = svg.append("g");
lg.append("line").attr("x1", 270).attr("x2", 715).attr("y1", 846.7).attr("y2", 846.7)
  .attr("stroke", "#7a7a7a").attr("stroke-width", 2);
lg.append("line").attr("x1", 296).attr("x2", 368).attr("y1", 826.7).attr("y2", 826.7)
  .attr("stroke", "#000").attr("stroke-width", 2.7);
lg.append("text").attr("x", 373).attr("y", 834).style("font-size", FONT + "px").text("Non-marine SO4");
lg.append("line").attr("x1", 572).attr("x2", 646).attr("y1", 827).attr("y2", 827)
  .attr("stroke", "#000").attr("stroke-width", 3.5).attr("stroke-dasharray", "5,6.6");
lg.append("text").attr("x", 646).attr("y", 834).style("font-size", FONT + "px").text("ANC");

panel({left: 89, perYear: 37.98, right: 920, top: 1295.3, bottom: 1556.3, yDomain: [0, 15],
  yTicks: tocTicks, grid: [5, 10], xAxisAt: 0,
  title: "Total organic carbon (TOC)", titleX: 478, titleY: 1269,
  yTitle: "mgC/l", yTitleX: 23, yTitleY: 1421,
  series: [{segments: [toc1983, toc1986], width: 3}]});
</script>
</body></html>
